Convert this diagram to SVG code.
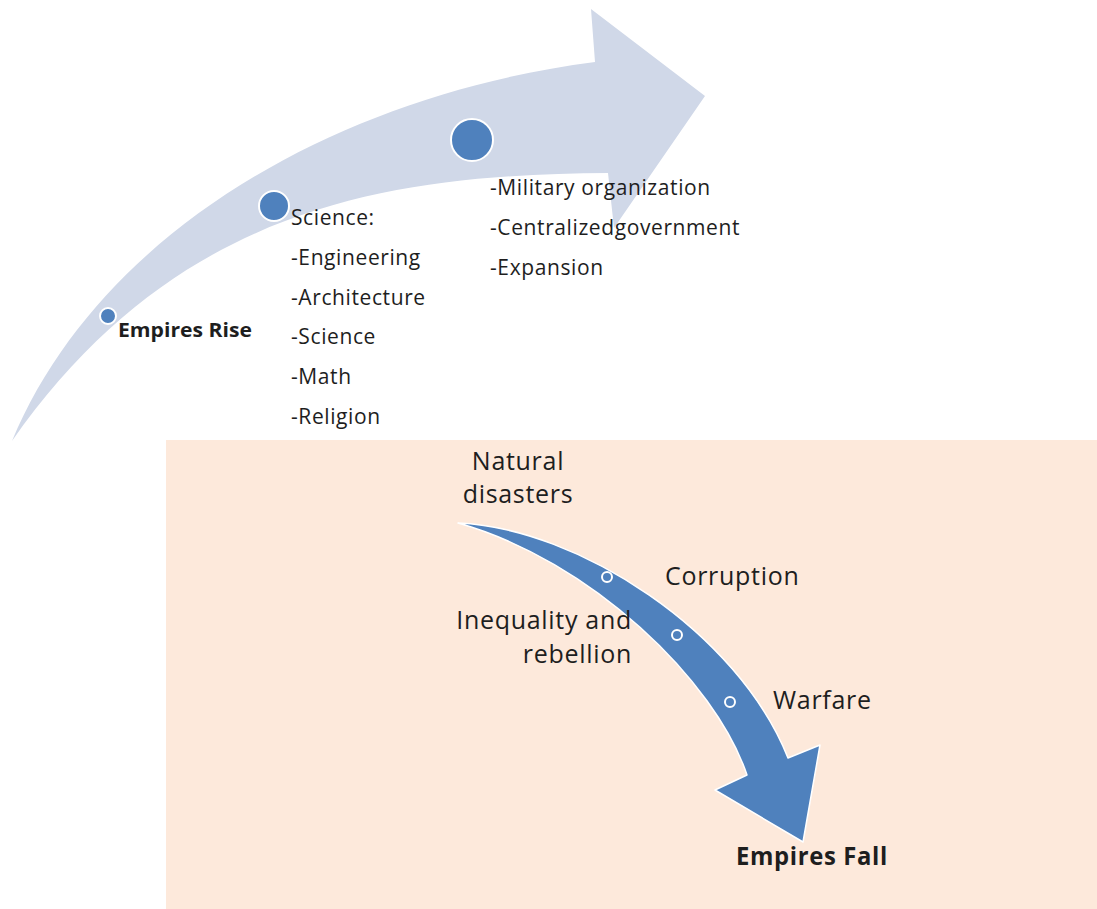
<svg xmlns="http://www.w3.org/2000/svg" width="1097" height="909" viewBox="0 0 1097 909">
  <style>
    .txt { font-family: "Open Sans", "Liberation Sans", sans-serif; fill: #1e1e1e; }
    .list { font-size: 21px; letter-spacing: 0.6px; }
    .bold { font-weight: bold; }
    .cause { font-size: 25px; letter-spacing: 0.7px; }
    .dot { fill: #4f81bd; stroke: #ffffff; stroke-width: 2; }
    .mini { fill: #4f81bd; stroke: #ffffff; stroke-width: 2; }
  </style>

  <rect width="1097" height="909" fill="#ffffff"/>

  <!-- lower panel -->
  <rect id="fall-panel" x="166" y="440" width="931" height="469" fill="#fde9db"/>

  <g id="connectors">
    <!-- rising arrow -->
    <path id="rise-arrow" d="M12,441 C100,230 340,95 595,62 L591,9 L705,96 L614,228 L608,173 C400,175 180,200 12,441 Z" fill="#d0d8e8"/>
    <!-- falling arrow -->
    <path id="fall-arrow" d="M458,523 C578,528 738,632 788,758 L820,745 L803,842 L715,790 L747,775 C715,680 590,560 458,523 Z" fill="#4f81bd" stroke="#ffffff" stroke-width="1.5" stroke-linejoin="round"/>
  </g>

  <g id="rise-start">
    <circle class="dot" cx="108" cy="316" r="8"/>
    <text class="txt bold" x="118" y="337" font-size="19" textLength="134" lengthAdjust="spacingAndGlyphs">Empires Rise</text>
  </g>

  <g id="science">
    <circle class="dot" cx="274" cy="206" r="15"/>
    <text class="txt list" x="291" y="225">Science:</text>
    <text class="txt list" x="291" y="265">-Engineering</text>
    <text class="txt list" x="291" y="305">-Architecture</text>
    <text class="txt list" x="291" y="344">-Science</text>
    <text class="txt list" x="291" y="384">-Math</text>
    <text class="txt list" x="291" y="424">-Religion</text>
  </g>

  <g id="state">
    <circle class="dot" cx="472" cy="140" r="21"/>
    <text class="txt list" x="490" y="195">-Military organization</text>
    <text class="txt list" x="490" y="235">-Centralizedgovernment</text>
    <text class="txt list" x="490" y="275">-Expansion</text>
  </g>

  <g id="natural-disasters">
    <text class="txt cause" x="518" y="470" text-anchor="middle">Natural</text>
    <text class="txt cause" x="518" y="503" text-anchor="middle">disasters</text>
  </g>

  <g id="corruption">
    <circle class="mini" cx="607" cy="577" r="5"/>
    <text class="txt cause" x="665" y="585">Corruption</text>
  </g>

  <g id="inequality">
    <circle class="mini" cx="677" cy="635" r="5"/>
    <text class="txt cause" x="632" y="629" text-anchor="end">Inequality and</text>
    <text class="txt cause" x="632" y="663" text-anchor="end">rebellion</text>
  </g>

  <g id="warfare">
    <circle class="mini" cx="730" cy="702" r="5"/>
    <text class="txt cause" x="773" y="709">Warfare</text>
  </g>

  <g id="fall-end">
    <text class="txt cause bold" x="736" y="865" textLength="152" lengthAdjust="spacingAndGlyphs">Empires Fall</text>
  </g>
</svg>
